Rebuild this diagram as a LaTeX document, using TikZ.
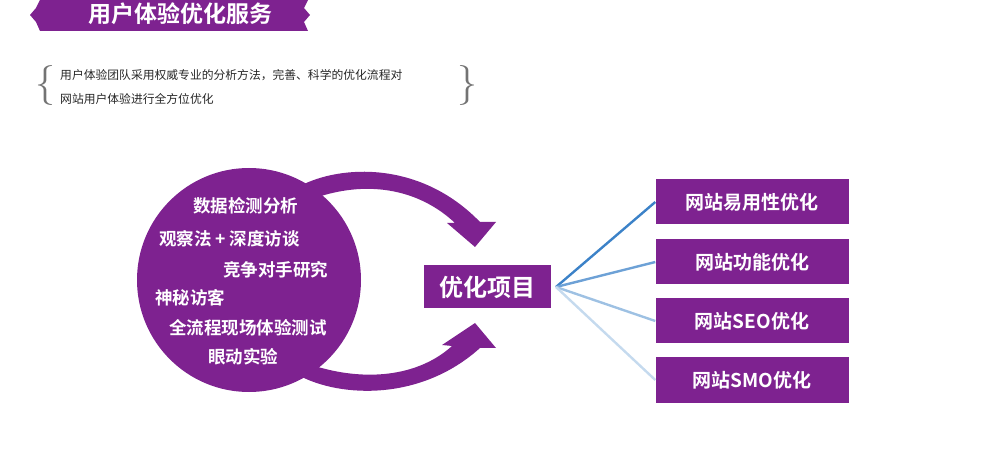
\documentclass[tikz,border=0pt]{standalone}
\usepackage{fontspec}
\newfontfamily\cjk{Noto Sans CJK SC}
\newfontfamily\cjkb{Noto Sans CJK SC Bold}
\usetikzlibrary{positioning}
\definecolor{vio}{HTML}{7E2290}
\definecolor{linkblue}{HTML}{3C82C8}
\tikzset{>=latex}

\begin{document}
\begin{tikzpicture}[x=1pt,y=-1pt,
            item/.style={font=\cjkb\fontsize{17.5}{19}\selectfont, text=white, anchor=west, inner sep=0pt},
            target/.style={fill=vio, minimum width=193pt, minimum height=45pt, font=\cjkb\fontsize{19}{21}\selectfont, text=white},
            link/.style={linkblue, line width=2.4pt}
        ]
            \useasboundingbox (0,0) rectangle (999,470);
            % banner
            \fill[vio] (40,0) -- (308,0) -- (304,8) -- (310,15) -- (304,22) -- (308,31) -- (40,31) -- (36,22) -- (30,15) -- (36,8) -- cycle;
            \node (title) at (180,14) {\cjkb\fontsize{23}{25}\selectfont\color{white}用户体验优化服务};
            % intro
            \node[anchor=west, inner sep=0pt, font=\cjk\fontsize{11.8}{13}\selectfont, text=black!85] (introa) at (60,75) {用户体验团队采用权威专业的分析方法，完善、科学的优化流程对};
            \node[anchor=west, inner sep=0pt, font=\cjk\fontsize{11.8}{13}\selectfont, text=black!85] (introb) at (60,99) {网站用户体验进行全方位优化};
            \node[text=black!55, font=\fontsize{40}{40}\selectfont] (bl) at (45,86) {\{};
            \node[text=black!55, font=\fontsize{40}{40}\selectfont] (br) at (467,86) {\}};
            % arrows
            \fill[vio] (300,186) .. controls (340,165) and (420,160) .. (480,222)
                -- (496,222) -- (475,247) -- (447,223) -- (455,223)
                .. controls (420,190) and (370,180) .. (318,197) -- cycle;
            \fill[vio] (300,376) .. controls (340,397) and (420,402) .. (480,348)
                -- (496,348) -- (475,323) -- (442,345) -- (452,346)
                .. controls (420,375) and (370,382) .. (318,367) -- cycle;
            % circle
            \fill[vio] (249,280) circle (112);
            \node[item] (ia) at (193,206) {数据检测分析};
            \node[item] (ib) at (159,239) {观察法 + 深度访谈};
            \node[item] (ic) at (223,270) {竞争对手研究};
            \node[item] (id) at (155,298) {神秘访客};
            \node[item] (ie) at (169,328) {全流程现场体验测试};
            \node[item] (if) at (208,357) {眼动实验};
            % hub
            \node[fill=vio, minimum width=127pt, minimum height=43pt, font=\cjkb\fontsize{24}{26}\selectfont, text=white] (hub) at (487,287) {优化项目};
            \node[target] (ta) at (752,202) {网站易用性优化};
            \node[target] (tb) at (752,262) {网站功能优化};
            \node[target] (tc) at (752,321) {网站SEO优化};
            \node[target] (td) at (752,380) {网站SMO优化};
            % links
            \coordinate (hubr) at (556,287);
            \foreach \t/\c in {ta/linkblue, tb/linkblue!75, tc/linkblue!50, td/linkblue!30}
                \draw[link, \c] (hubr) -- (\t.west);
        \end{tikzpicture}
\end{document}
